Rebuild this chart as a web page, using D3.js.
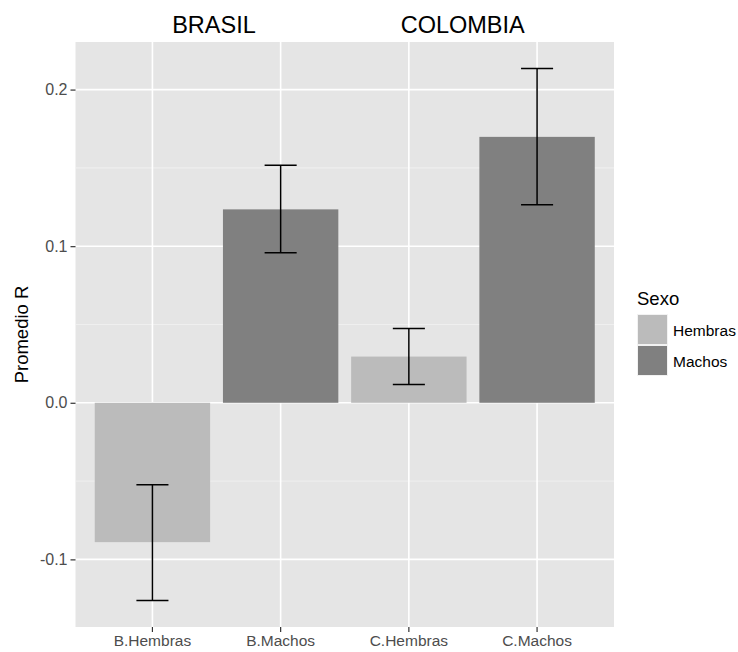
<!DOCTYPE html>
<html>
<head>
<meta charset="utf-8">
<script src="https://cdn.jsdelivr.net/npm/d3@7"></script>
<style>
  body { margin: 0; background: #fff; }
  svg { font-family: "Liberation Sans", Arial, Helvetica, sans-serif; }
</style>
</head>
<body>
<script>
// data
const categories = ["B.Hembras", "B.Machos", "C.Hembras", "C.Machos"];
const sexo = ["Hembras", "Machos", "Hembras", "Machos"];
const means = [-0.089, 0.1235, 0.0295, 0.1698];
const lower = [-0.1262, 0.0958, 0.0116, 0.1265];
const upper = [-0.0524, 0.1517, 0.0475, 0.2134];
const yTicks = [-0.1, 0.0, 0.1, 0.2];
const yMinor = [-0.05, 0.05, 0.15];
const countries = ["BRASIL", "COLOMBIA"];
const countryPos = [0.48, 2.42];   // in category index units
const legendLevels = ["Hembras", "Machos"];

const w = 738;
const h = 652;
const margin = {top: 42, right: 124, bottom: 25, left: 75.5};

const svg = d3.select("body")
    .append("svg")
    .attr("width", w)
    .attr("height", h);

const color = d3.scaleOrdinal()
    .domain(legendLevels)
    .range(["#BBBBBB", "#808080"]);

// x: discrete scale, bars 0.9 wide, 0.6 expansion each side
const x = d3.scaleBand()
    .domain(categories)
    .range([margin.left, w - margin.right])
    .paddingInner(0.1)
    .paddingOuter(0.15);
const xc = d => x(d) + x.bandwidth() / 2;
const step = x.step();

// y: 5% expansion like ggplot
const lo = d3.min(lower), hi = d3.max(upper);
const pad = (hi - lo) * 0.05;
const y = d3.scaleLinear()
    .domain([lo - pad, hi + pad])
    .range([h - margin.bottom, margin.top]);

// panel
svg.append("rect")
    .attr("x", margin.left)
    .attr("y", margin.top)
    .attr("width", w - margin.right - margin.left)
    .attr("height", h - margin.bottom - margin.top)
    .attr("fill", "#E5E5E5");

const grid = svg.append("g");
grid.selectAll(".minor")
    .data(yMinor)
    .join("line")
    .attr("x1", margin.left).attr("x2", w - margin.right)
    .attr("y1", d => y(d)).attr("y2", d => y(d))
    .attr("stroke", "#F2F2F2").attr("stroke-width", 0.8);
grid.selectAll(".major")
    .data(yTicks)
    .join("line")
    .attr("x1", margin.left).attr("x2", w - margin.right)
    .attr("y1", d => y(d)).attr("y2", d => y(d))
    .attr("stroke", "#fff").attr("stroke-width", 1.6);
grid.selectAll(".vmajor")
    .data(categories)
    .join("line")
    .attr("x1", d => xc(d)).attr("x2", d => xc(d))
    .attr("y1", margin.top).attr("y2", h - margin.bottom)
    .attr("stroke", "#fff").attr("stroke-width", 1.6);

// bars
svg.append("g")
    .selectAll("rect")
    .data(categories)
    .join("rect")
    .attr("x", d => x(d))
    .attr("width", x.bandwidth())
    .attr("y", (d, i) => y(Math.max(0, means[i])))
    .attr("height", (d, i) => Math.abs(y(means[i]) - y(0)))
    .attr("fill", (d, i) => color(sexo[i]));

// error bars
const capW = step * 0.25;
const eb = svg.append("g")
    .attr("stroke", "#000")
    .attr("stroke-width", 1.5);
categories.forEach((c, i) => {
    eb.append("line")
        .attr("x1", xc(c)).attr("x2", xc(c))
        .attr("y1", y(lower[i])).attr("y2", y(upper[i]));
    [lower[i], upper[i]].forEach(v => {
        eb.append("line")
            .attr("x1", xc(c) - capW / 2).attr("x2", xc(c) + capW / 2)
            .attr("y1", y(v)).attr("y2", y(v));
    });
});

// axes
const fmt = d => d3.format(".1f")(d).replace("\u2212", "-");

const yAxis = g => g
    .attr("transform", `translate(${margin.left},0)`)
    .call(d3.axisLeft(y).tickValues(yTicks).tickFormat(fmt).tickSize(5).tickPadding(3))
    .call(g => g.select(".domain").remove())
    .call(g => g.selectAll(".tick line").attr("stroke", "#333").attr("stroke-width", 1.2))
    .call(g => g.selectAll(".tick text").attr("fill", "#4D4D4D").attr("font-size", 16).attr("font-family", null));

const xAxis = g => g
    .attr("transform", `translate(0,${h - margin.bottom})`)
    .call(d3.axisBottom(x).tickSize(5).tickPadding(3))
    .call(g => g.select(".domain").remove())
    .call(g => g.selectAll(".tick line").attr("stroke", "#333").attr("stroke-width", 1.2))
    .call(g => g.selectAll(".tick text").attr("fill", "#4D4D4D").attr("font-size", 15.5).attr("font-family", null));

svg.append("g").call(yAxis);
svg.append("g").call(xAxis);

svg.append("text")
    .attr("transform", `translate(28,${(margin.top + h - margin.bottom) / 2}) rotate(-90)`)
    .attr("text-anchor", "middle")
    .attr("font-size", 18.5)
    .text("Promedio R");

// country labels on top
svg.append("g")
    .selectAll("text")
    .data(countries)
    .join("text")
    .attr("x", (d, i) => xc(categories[0]) + countryPos[i] * step)
    .attr("y", 33)
    .attr("text-anchor", "middle")
    .attr("font-size", 23.5)
    .text(d => d);

// legend
const lg = svg.append("g").attr("transform", "translate(637,0)");
lg.append("text")
    .attr("x", 0).attr("y", 305)
    .attr("font-size", 18.5)
    .text("Sexo");
const keys = lg.selectAll(".key")
    .data(legendLevels)
    .join("g")
    .attr("transform", (d, i) => `translate(0,${314 + i * 31})`);
keys.append("rect")
    .attr("width", 31).attr("height", 31)
    .attr("fill", "#F2F2F2");
keys.append("rect")
    .attr("x", 1).attr("y", 1)
    .attr("width", 29).attr("height", 29)
    .attr("fill", d => color(d));
keys.append("text")
    .attr("x", 36).attr("y", 21.5)
    .attr("font-size", 15.5)
    .text(d => d);
</script>
</body>
</html>
